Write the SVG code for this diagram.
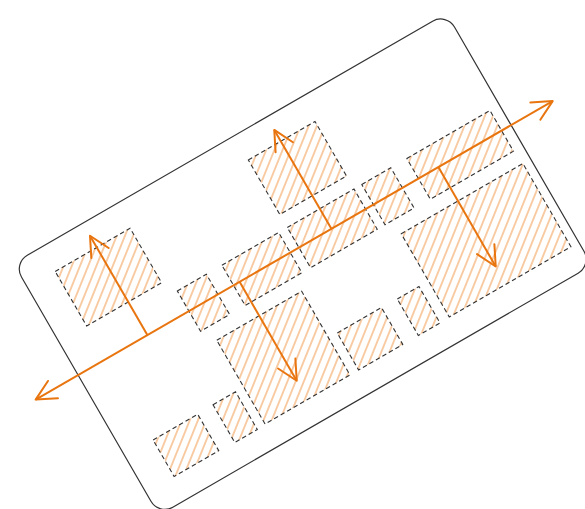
<svg xmlns="http://www.w3.org/2000/svg" width="585" height="509" viewBox="0 0 585 509">
<style>
.board{fill:none;stroke:#333;stroke-width:1.2}
.cell{fill:url(#hatch);stroke:#333;stroke-width:1.1;stroke-dasharray:4.5 3}
.arrow{fill:none;stroke:#e8750f;stroke-width:2;marker-end:url(#head)}
.axis{marker-start:url(#head)}
</style>
<defs>
<pattern id="hatch" width="7.6" height="7.6" patternUnits="userSpaceOnUse" patternTransform="rotate(52)">
<line x1="3.8" y1="-1" x2="3.8" y2="8.6" stroke="#f3a45f" stroke-width="1.1"/>
</pattern>
<marker id="head" viewBox="0 0 24 24" markerWidth="24" markerHeight="24" refX="22" refY="12" orient="auto-start-reverse" markerUnits="userSpaceOnUse">
<path d="M2 2 L22 12 L2 22" fill="none" stroke="#e8750f" stroke-width="2" stroke-linejoin="round" stroke-linecap="round"/>
</marker>
</defs>
<rect width="585" height="509" fill="#fff"/>
<g transform="translate(298 264) rotate(-30)">
<g id="board"><rect class="board" x="-246" y="-143" width="500" height="291" rx="16"/></g>
<g id="cell1"><rect class="cell" x="-214" y="-115" width="86.5" height="63"/></g>
<g id="cell2"><rect class="cell" x="9" y="-115" width="77" height="63"/></g>
<g id="cell3"><rect class="cell" x="-118" y="-37" width="33.5" height="46.5"/></g>
<g id="cell4"><rect class="cell" x="-66.5" y="-37" width="65.5" height="46.5"/></g>
<g id="cell5"><rect class="cell" x="9" y="-37" width="77" height="46.5"/></g>
<g id="cell6"><rect class="cell" x="95" y="-37" width="33.5" height="46.5"/></g>
<g id="cell7"><rect class="cell" x="147" y="-37" width="96" height="47"/></g>
<g id="cell8"><rect class="cell" x="104.5" y="25.5" width="140.5" height="96"/></g>
<g id="cell9"><rect class="cell" x="-108.5" y="25.5" width="98" height="96.5"/></g>
<g id="cell10"><rect class="cell" x="-0.5" y="79.5" width="51" height="42.5"/></g>
<g id="cell11"><rect class="cell" x="68.5" y="80" width="25" height="42"/></g>
<g id="cell12"><rect class="cell" x="-144" y="79.5" width="26" height="43.5"/></g>
<g id="cell13"><rect class="cell" x="-213.5" y="80" width="51.5" height="42"/></g>
<g id="connectors">
<line class="arrow axis" x1="-295" y1="-13.75" x2="302" y2="-13.75"/>
<line class="arrow" x1="-166" y1="-13.75" x2="-166" y2="-128.5"/>
<line class="arrow" x1="46.5" y1="-13.75" x2="46.5" y2="-128"/>
<line class="arrow" x1="170" y1="-13.75" x2="170" y2="101"/>
<line class="arrow" x1="-59.5" y1="-13.75" x2="-59.5" y2="100.5"/>
</g>
</g>
</svg>
